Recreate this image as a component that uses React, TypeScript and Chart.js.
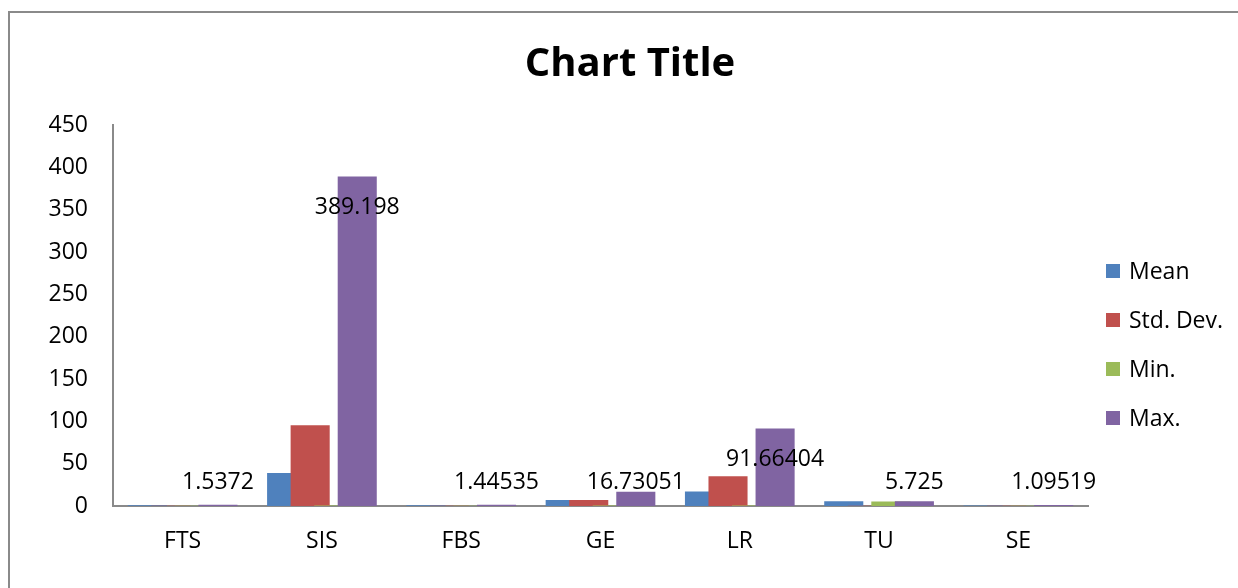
import React, { useEffect, useRef } from "react";
import { Chart, registerables } from "chart.js";

Chart.register(...registerables);

const categories = ["FTS", "SIS", "FBS", "GE", "LR", "TU", "SE"];
const meanValues = [0.9, 39, 0.8, 7, 17, 5.6, 0.7];
const stdDevValues = [0.3, 95.5, 0.25, 7, 35, 0.3, 0.15];
const minValues = [0.4, 0.5, 0.4, 0.5, 0.5, 5.4, 0.4];
const maxValues = [1.5372, 389.198, 1.44535, 16.73051, 91.66404, 5.725, 1.09519];
const seriesNames = ["Mean", "Std. Dev.", "Min.", "Max."];
const seriesColors = ["#4F81BD", "#C0504D", "#9BBB59", "#8064A2"];
const yMin = 0;
const yMax = 450;
const yStep = 50;

const FONT = "'Open Sans', 'Noto Sans', sans-serif";
const AXIS_GRAY = "#8a8a8a";

const orderedDrawPlugin = {
  id: "orderedDraw",
  beforeDatasetsDraw(chart: any) {
    const metas = chart.getSortedVisibleDatasetMetas();
    for (const m of metas) m.controller.draw();
    return false;
  },
};

const labelsPlugin = {
  id: "maxLabels",
  afterDraw(chart: any) {
    const ctx = chart.ctx;
    const meta = chart.getDatasetMeta(3);
    const base = chart.scales.y.getPixelForValue(0);
    ctx.save();
    ctx.font = `23px ${FONT}`;
    ctx.fillStyle = "#000";
    ctx.textAlign = "center";
    ctx.textBaseline = "middle";
    meta.data.forEach((bar: any, i: number) => {
      const y = Math.min(bar.y + 31, base - 24);
      ctx.fillText(String(maxValues[i]), bar.x, y);
    });
    ctx.restore();
  },
};

const legendPlugin = {
  id: "customLegend",
  afterDraw(chart: any) {
    const ctx = chart.ctx;
    const ca = chart.chartArea;
    ctx.save();
    ctx.font = `23px ${FONT}`;
    ctx.textAlign = "left";
    ctx.textBaseline = "middle";
    seriesNames.forEach((name, i) => {
      const cy = ca.top + 146 + i * 49;
      ctx.fillStyle = seriesColors[i];
      ctx.fillRect(ca.right + 18, cy - 7, 14, 14);
      ctx.fillStyle = "#000";
      ctx.fillText(name, ca.right + 41, cy + 1);
    });
    ctx.restore();
  },
};

export default function App() {
  const canvasRef = useRef<HTMLCanvasElement | null>(null);

  useEffect(() => {
    const canvas = canvasRef.current;
    if (!canvas) return;
    const seriesData = [meanValues, stdDevValues, minValues, maxValues];
    const chart = new Chart(canvas, {
      type: "bar",
      data: {
        labels: categories,
        datasets: seriesNames.map((name, i) => ({
          label: name,
          data: seriesData[i],
          backgroundColor: seriesColors[i],
          borderWidth: 0,
          categoryPercentage: 0.676,
          barPercentage: 1.66,
          yAxisID: "y",
        })),
      },
      options: {
        responsive: false,
        animation: false,
        devicePixelRatio: 1,
        layout: { padding: { left: 0, right: 0, top: 0, bottom: 0 } },
        plugins: {
          legend: { display: false },
          tooltip: { enabled: false },
          title: {
            display: true,
            text: "Chart Title",
            color: "#000",
            font: { family: FONT, size: 40, weight: "bold", lineHeight: 1.2 },
            padding: { top: 28, bottom: 36 },
          },
        },
        scales: {
          x: {
            type: "category",
            offset: true,
            grid: { display: false, drawTicks: false },
            border: { display: true, color: AXIS_GRAY, width: 2 },
            ticks: {
              color: "#000",
              padding: 22,
              maxRotation: 0,
              autoSkip: false,
              font: { family: FONT, size: 23 },
            },
            afterFit(scale: any) {
              scale.height = 82;
            },
          },
          y: {
            min: yMin,
            max: yMax,
            grid: { display: false, drawTicks: false },
            border: { display: true, color: AXIS_GRAY, width: 2 },
            ticks: {
              stepSize: yStep,
              color: "#000",
              padding: 25,
              font: { family: FONT, size: 23 },
            },
            afterFit(scale: any) {
              scale.width = 103;
            },
          },
          legendSpace: {
            type: "linear",
            position: "right",
            display: true,
            grid: { display: false, drawTicks: false },
            border: { display: false },
            ticks: { display: false },
            afterFit(scale: any) {
              scale.width = 162;
            },
          },
        },
      },
      plugins: [orderedDrawPlugin, labelsPlugin, legendPlugin],
    });
    return () => chart.destroy();
  }, []);

  return (
    <div
      style={{
        position: "absolute",
        left: 8,
        top: 11,
        width: 1230,
        height: 577,
        overflow: "hidden",
        borderLeft: `2px solid ${AXIS_GRAY}`,
        borderTop: `2px solid ${AXIS_GRAY}`,
        boxSizing: "border-box",
        background: "#fff",
      }}
    >
      <canvas
        ref={canvasRef}
        width={1240}
        height={575}
        style={{ display: "block", width: 1240, height: 575 }}
      />
    </div>
  );
}
